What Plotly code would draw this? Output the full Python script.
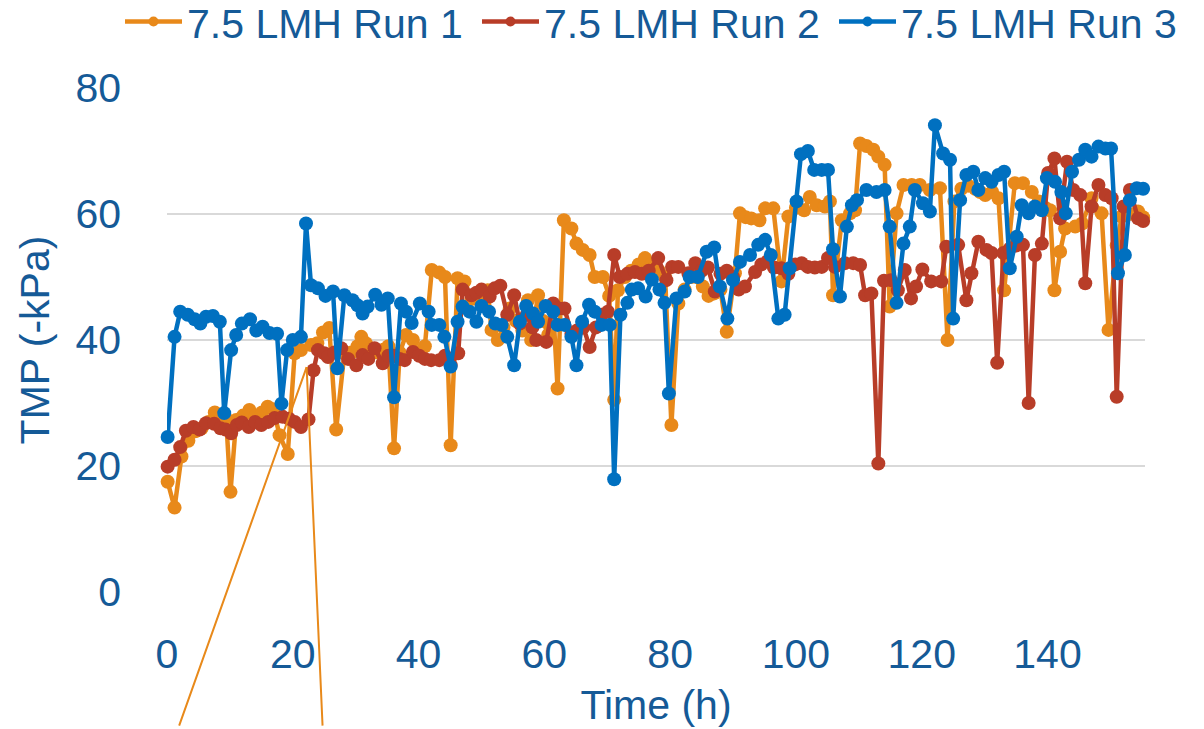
import plotly.graph_objects as go

# ---------------- data ----------------
run1_t = [0.1, 1.2, 2.3, 3.4, 4.5, 5.5, 6.6, 7.6, 8.6, 9.4, 10.1, 11.0, 12.1, 13.1, 14.1, 15.1, 16.0, 16.9,
          17.9, 19.2, 20.3, 21.3, 22.9, 23.9, 24.8, 25.8, 26.9, 28.2, 29.3, 30.3, 30.9, 31.6, 32.4, 33.5,
          34.5, 35.2, 36.1, 37.0, 38.0, 39.1, 40.0, 41.0, 42.1, 43.3, 44.2, 45.1, 46.2, 47.3, 48.4, 49.4,
          50.3, 51.0, 51.6, 52.6, 53.5, 54.5, 55.5, 56.5, 57.4, 57.9, 59.0, 59.8, 60.6, 61.4, 62.1, 63.1,
          64.3, 65.1, 66.1, 67.2, 68.0, 69.3, 70.3, 71.1, 71.7, 72.8, 73.8, 75.0, 76.0, 77.0, 78.2, 79.2,
          80.2, 81.3, 82.3, 83.3, 84.2, 85.2, 86.1, 87.0, 88.0, 89.0, 90.3, 91.1, 92.0, 92.9, 94.2, 95.1,
          96.4, 97.7, 98.8, 100.0, 101.3, 102.2, 103.3, 104.6, 105.4, 105.9, 107.3, 108.6, 109.4, 110.2,
          111.2, 112.3, 113.1, 114.1, 114.9, 116.0, 117.1, 118.4, 119.7, 121.3, 122.9, 124.1, 125.2, 126.3,
          127.4, 128.5, 129.3, 130.1, 131.2, 132.2, 133.1, 134.8, 136.1, 137.5, 138.6, 139.6, 140.4, 141.1,
          142.0, 142.8, 144.4, 145.5, 147.0, 148.6, 149.7, 151.0, 151.8, 153.0, 154.4, 155.2]
run1_v = [17.5, 13.4, 21.5, 24.0, 25.5, 26.0, 27.0, 28.5, 28.0, 27.5, 15.9, 27.3, 28.0, 28.9, 28.0, 28.5, 29.4, 29.0,
          24.9, 21.9, 37.9, 38.4, 39.2, 39.5, 41.2, 41.9, 25.8, 37.9, 38.0, 39.0, 40.5, 39.5, 38.5, 38.0,
          38.5, 39.0, 22.8, 38.0, 40.8, 40.0, 38.0, 39.0, 51.1, 50.7, 50.0, 23.3, 49.8, 49.3, 46.5, 47.0,
          46.5, 47.9, 41.6, 40.0, 42.0, 45.0, 43.0, 41.5, 46.3, 40.0, 47.1, 43.0, 40.8, 45.0, 32.3, 59.0,
          57.7, 55.3, 54.3, 53.5, 50.0, 50.0, 47.0, 30.5, 47.9, 50.0, 51.0, 52.0, 53.0, 52.0, 51.0, 50.0,
          26.5, 45.8, 48.0, 50.0, 50.0, 48.5, 47.0, 47.4, 48.0, 41.3, 50.6, 60.1, 59.5, 59.3, 59.0, 60.9,
          60.9, 49.3, 59.6, 61.0, 60.6, 62.7, 61.4, 61.2, 62.0, 47.1, 59.0, 60.1, 60.6, 71.2,
          70.8, 70.2, 69.1, 67.8, 45.3, 60.1, 64.6, 64.6, 64.6, 63.8, 64.1, 40.0, 62.0, 64.0,
          64.5, 64.0, 63.5, 63.0, 63.5, 62.5, 47.9, 64.9, 64.9, 63.5, 62.0, 61.0, 60.6, 47.9,
          54.0, 57.7, 58.0, 58.5, 62.5, 60.1, 41.6, 55.0, 59.6, 60.0, 60.4, 59.5]

run2_t = [0.1, 1.2, 2.1, 3.0, 4.2, 5.2, 6.2, 7.5, 8.5, 9.3, 10.2, 11.1, 11.9, 13.0, 14.0, 15.0, 16.1, 17.1,
          18.4, 19.4, 20.3, 21.3, 22.5, 23.3, 24.0, 25.0, 25.6, 26.6, 27.7, 28.8, 30.1, 31.1, 32.0, 33.0,
          34.3, 35.2, 36.1, 37.0, 37.8, 39.1, 40.1, 41.0, 42.0, 43.3, 44.2, 45.1, 46.3, 47.0, 48.4, 49.2,
          50.0, 51.3, 52.1, 53.0, 54.1, 55.2, 56.1, 57.2, 58.1, 58.7, 60.3, 61.4, 62.3, 63.2, 64.3, 65.2,
          66.2, 67.2, 68.2, 69.1, 70.1, 71.1, 72.0, 73.2, 74.4, 75.5, 76.6, 78.1, 79.4, 80.3, 81.3, 82.9,
          84.0, 85.0, 86.0, 87.1, 88.0, 89.0, 90.0, 90.9, 91.9, 93.5, 94.5, 95.5, 96.5, 97.7, 98.8, 99.9,
          100.9, 101.9, 103.0, 104.1, 105.1, 106.2, 107.8, 109.1, 110.2, 111.0, 112.0, 113.1, 114.0, 115.1,
          116.2, 117.3, 118.3, 119.1, 120.1, 121.5, 123.1, 123.9, 125.8, 127.1, 127.9, 129.0, 130.3, 131.1,
          132.0, 133.0, 134.0, 135.0, 136.1, 137.0, 138.0, 139.1, 140.1, 141.1, 142.0, 143.1, 144.1, 145.2,
          146.0, 147.0, 148.1, 149.2, 150.2, 151.0, 152.1, 153.1, 154.4, 155.2]
run2_v = [19.9, 21.0, 23.0, 25.6, 26.2, 25.8, 26.8, 26.7, 26.0, 25.8, 25.2, 26.5, 26.9, 26.2, 27.0, 26.5, 27.0, 27.6,
          27.8, 27.5, 27.0, 26.2, 27.4, 35.2, 38.4, 37.9, 37.3, 38.0, 38.7, 37.0, 36.0, 37.6, 37.0, 38.7,
          36.3, 37.5, 37.5, 37.0, 36.8, 38.1, 37.5, 37.0, 36.8, 36.8, 37.5, 36.0, 37.9, 48.0, 47.1, 47.5,
          48.0, 46.9, 48.2, 48.6, 44.0, 47.1, 42.6, 44.0, 42.0, 40.0, 39.7, 45.8, 45.0, 45.0, 41.0, 41.5,
          42.0, 38.9, 42.0, 44.0, 44.5, 53.5, 50.0, 50.5, 50.8, 50.5, 51.0, 53.0, 49.5, 51.6, 51.6, 50.6,
          52.2, 51.0, 51.5, 47.7, 50.5, 51.0, 50.0, 48.0, 48.5, 50.8, 52.0, 52.5, 51.5, 51.4, 50.5, 52.0,
          52.2, 51.6, 51.5, 51.6, 53.0, 51.6, 52.2, 52.2, 51.9, 47.1, 47.4, 20.4, 49.4, 49.5,
          47.9, 51.1, 46.6, 48.5, 51.2, 49.3, 49.3, 54.8, 55.1, 46.3, 50.6, 55.6, 54.3, 53.8,
          36.4, 53.8, 54.5, 55.0, 55.1, 30.0, 53.5, 55.3, 66.5, 68.8, 59.3, 68.3, 63.8, 63.0,
          49.0, 61.2, 64.6, 63.0, 62.5, 31.0, 61.2, 63.8, 59.3, 58.9]

run3_t = [0.1, 1.2, 2.1, 3.3, 4.4, 5.3, 6.2, 7.3, 8.4, 9.1, 10.2, 11.0, 11.9, 13.2, 14.2, 15.2, 16.3, 17.5,
          18.2, 19.1, 20.0, 21.3, 22.1, 22.9, 24.0, 25.2, 26.4, 27.1, 28.2, 29.5, 30.3, 31.1, 31.9, 33.1,
          34.1, 35.1, 36.1, 37.2, 38.0, 38.9, 40.2, 41.6, 42.1, 43.3, 44.1, 45.1, 46.2, 47.0, 48.1, 49.2,
          50.0, 51.2, 52.2, 53.2, 54.1, 55.2, 56.1, 57.1, 58.2, 59.0, 60.2, 61.4, 62.1, 63.2, 64.3, 65.1,
          66.0, 67.1, 68.0, 69.1, 70.4, 71.1, 72.1, 73.2, 73.9, 74.9, 76.1, 77.1, 78.3, 79.1, 79.8, 81.0,
          82.3, 83.1, 84.4, 85.8, 87.0, 87.9, 89.1, 90.0, 91.1, 92.7, 94.0, 95.1, 96.0, 97.2, 98.2, 99.0,
          100.1, 100.8, 101.9, 102.9, 104.1, 105.1, 105.9, 107.0, 108.1, 108.9, 109.7, 111.2, 112.8, 114.1,
          114.9, 116.0, 117.1, 118.1, 118.9, 120.2, 121.3, 122.1, 123.4, 124.5, 125.0, 126.1, 127.1, 128.2,
          129.0, 130.1, 131.1, 132.2, 133.1, 134.0, 135.1, 135.9, 137.0, 138.0, 139.1, 139.9, 141.2, 142.2,
          142.9, 143.9, 145.0, 146.0, 147.0, 148.1, 149.2, 150.1, 151.2, 152.3, 153.1, 154.2, 155.2]
run3_v = [24.6, 40.5, 44.5, 44.0, 43.3, 42.6, 43.7, 43.8, 42.9, 28.4, 38.4, 40.8, 42.6, 43.3, 41.5, 42.1, 41.1, 41.0,
          29.9, 38.4, 40.0, 40.5, 58.5, 48.7, 48.2, 47.0, 47.7, 35.5, 47.1, 46.3, 45.5, 44.2, 45.3, 47.2,
          45.6, 46.6, 30.9, 45.8, 44.5, 42.7, 45.8, 44.5, 42.4, 42.4, 40.5, 35.8, 42.9, 45.3, 44.5, 42.9,
          45.4, 44.5, 42.6, 42.4, 40.5, 36.0, 42.9, 45.4, 44.2, 42.9, 45.4, 44.5, 42.4, 42.4, 40.5, 36.0,
          42.9, 45.6, 44.5, 42.4, 42.4, 17.9, 44.0, 45.9, 48.0, 48.2, 46.9, 49.6, 48.0, 45.9, 31.5, 46.6,
          47.7, 50.0, 50.0, 54.0, 54.7, 48.5, 43.4, 49.5, 52.4, 53.5, 55.1, 55.9, 53.5, 43.4, 44.0, 51.4,
          62.0, 69.5, 70.0, 67.0, 67.0, 67.0, 54.4, 46.9, 58.0, 61.4, 62.2, 63.8, 63.5, 63.8,
          58.0, 45.9, 55.3, 58.0, 63.8, 61.7, 60.4, 74.1, 69.6, 68.6, 43.4, 62.2, 66.2, 66.7,
          63.8, 65.7, 65.1, 66.2, 66.7, 51.4, 56.4, 61.4, 60.1, 61.2, 60.6, 65.7, 65.1, 63.5,
          60.1, 66.7, 68.6, 70.2, 69.1, 70.7, 70.4, 70.4, 50.6, 53.5, 62.2, 64.1, 64.0]

series_names = ["7.5 LMH Run 1", "7.5 LMH Run 2", "7.5 LMH Run 3"]
x_ticks = [0, 20, 40, 60, 80, 100, 120, 140]
y_ticks = [0, 20, 40, 60, 80]
callout_t = 22.2
callout_v = 35.7

# ---------------- style ----------------
colors = ["#E8891A", "#B83D28", "#0070C0"]
text_color = "#155A97"
font_family = "Liberation Sans, Arial, sans-serif"
fs = 41
legend_ids = ["legend", "legend2", "legend3"]
legend_x_px = [120, 477, 834]
W, H = 1204, 729

fig = go.Figure()
for name, t, v, c, lg in zip(series_names, [run1_t, run2_t, run3_t], [run1_v, run2_v, run3_v], colors, legend_ids):
    fig.add_trace(go.Scatter(
        x=t, y=v, name=name, mode="lines+markers",
        line=dict(color=c, width=4.5),
        marker=dict(color=c, size=14, line=dict(width=0)),
        cliponaxis=False, showlegend=False,
    ))
# legend entries (smaller marker, as in the reference legend)
for name, c, lg in zip(series_names, colors, legend_ids):
    fig.add_trace(go.Scatter(
        x=[None], y=[None], name=name, mode="lines+markers",
        line=dict(color=c, width=4.5),
        marker=dict(color=c, size=10, line=dict(width=0)),
        showlegend=True, legend=lg, hoverinfo="skip",
    ))

# callout lines (from a text box below the chart)
for ax_off in (-128, 16):
    fig.add_annotation(
        x=callout_t, y=callout_v, xref="x", yref="y", text="",
        showarrow=True, arrowhead=0, arrowwidth=2, arrowcolor=colors[0],
        ax=ax_off, ay=360, standoff=0, startstandoff=0,
    )

legend_common = dict(
    orientation="h", xref="container", yref="container",
    y=0.97, xanchor="left", yanchor="middle",
    font=dict(size=fs, color=text_color),
    itemwidth=57, bgcolor="rgba(0,0,0,0)", itemclick=False,
)

fig.update_layout(
    width=W, height=H,
    margin=dict(l=167, r=59, t=88, b=137, autoexpand=False),
    paper_bgcolor="white", plot_bgcolor="white",
    font=dict(family=font_family, size=fs, color=text_color),
    showlegend=True,
    legend=dict(x=legend_x_px[0] / W, **legend_common),
    legend2=dict(x=legend_x_px[1] / W, **legend_common),
    legend3=dict(x=legend_x_px[2] / W, **legend_common),
    xaxis=dict(
        range=[0, 155.5], tickmode="array", tickvals=x_ticks,
        showgrid=False, zeroline=False, showline=False, ticks="",
        ticklabelstandoff=34,
        title=dict(text="Time (h)", font=dict(size=fs, color=text_color), standoff=14),
        tickfont=dict(size=fs, color=text_color),
    ),
    yaxis=dict(
        range=[0, 80], tickmode="array", tickvals=y_ticks,
        showgrid=True, gridcolor="#D9D9D9", gridwidth=1.5,
        zeroline=False, showline=False, ticks="",
        ticklabelstandoff=45,
        title=dict(text="TMP (-kPa)", font=dict(size=fs, color=text_color), standoff=13),
        tickfont=dict(size=fs, color=text_color),
    ),
)

fig.write_html("out.html", config={"displayModeBar": False},
               post_script="document.body.style.margin='0';")
